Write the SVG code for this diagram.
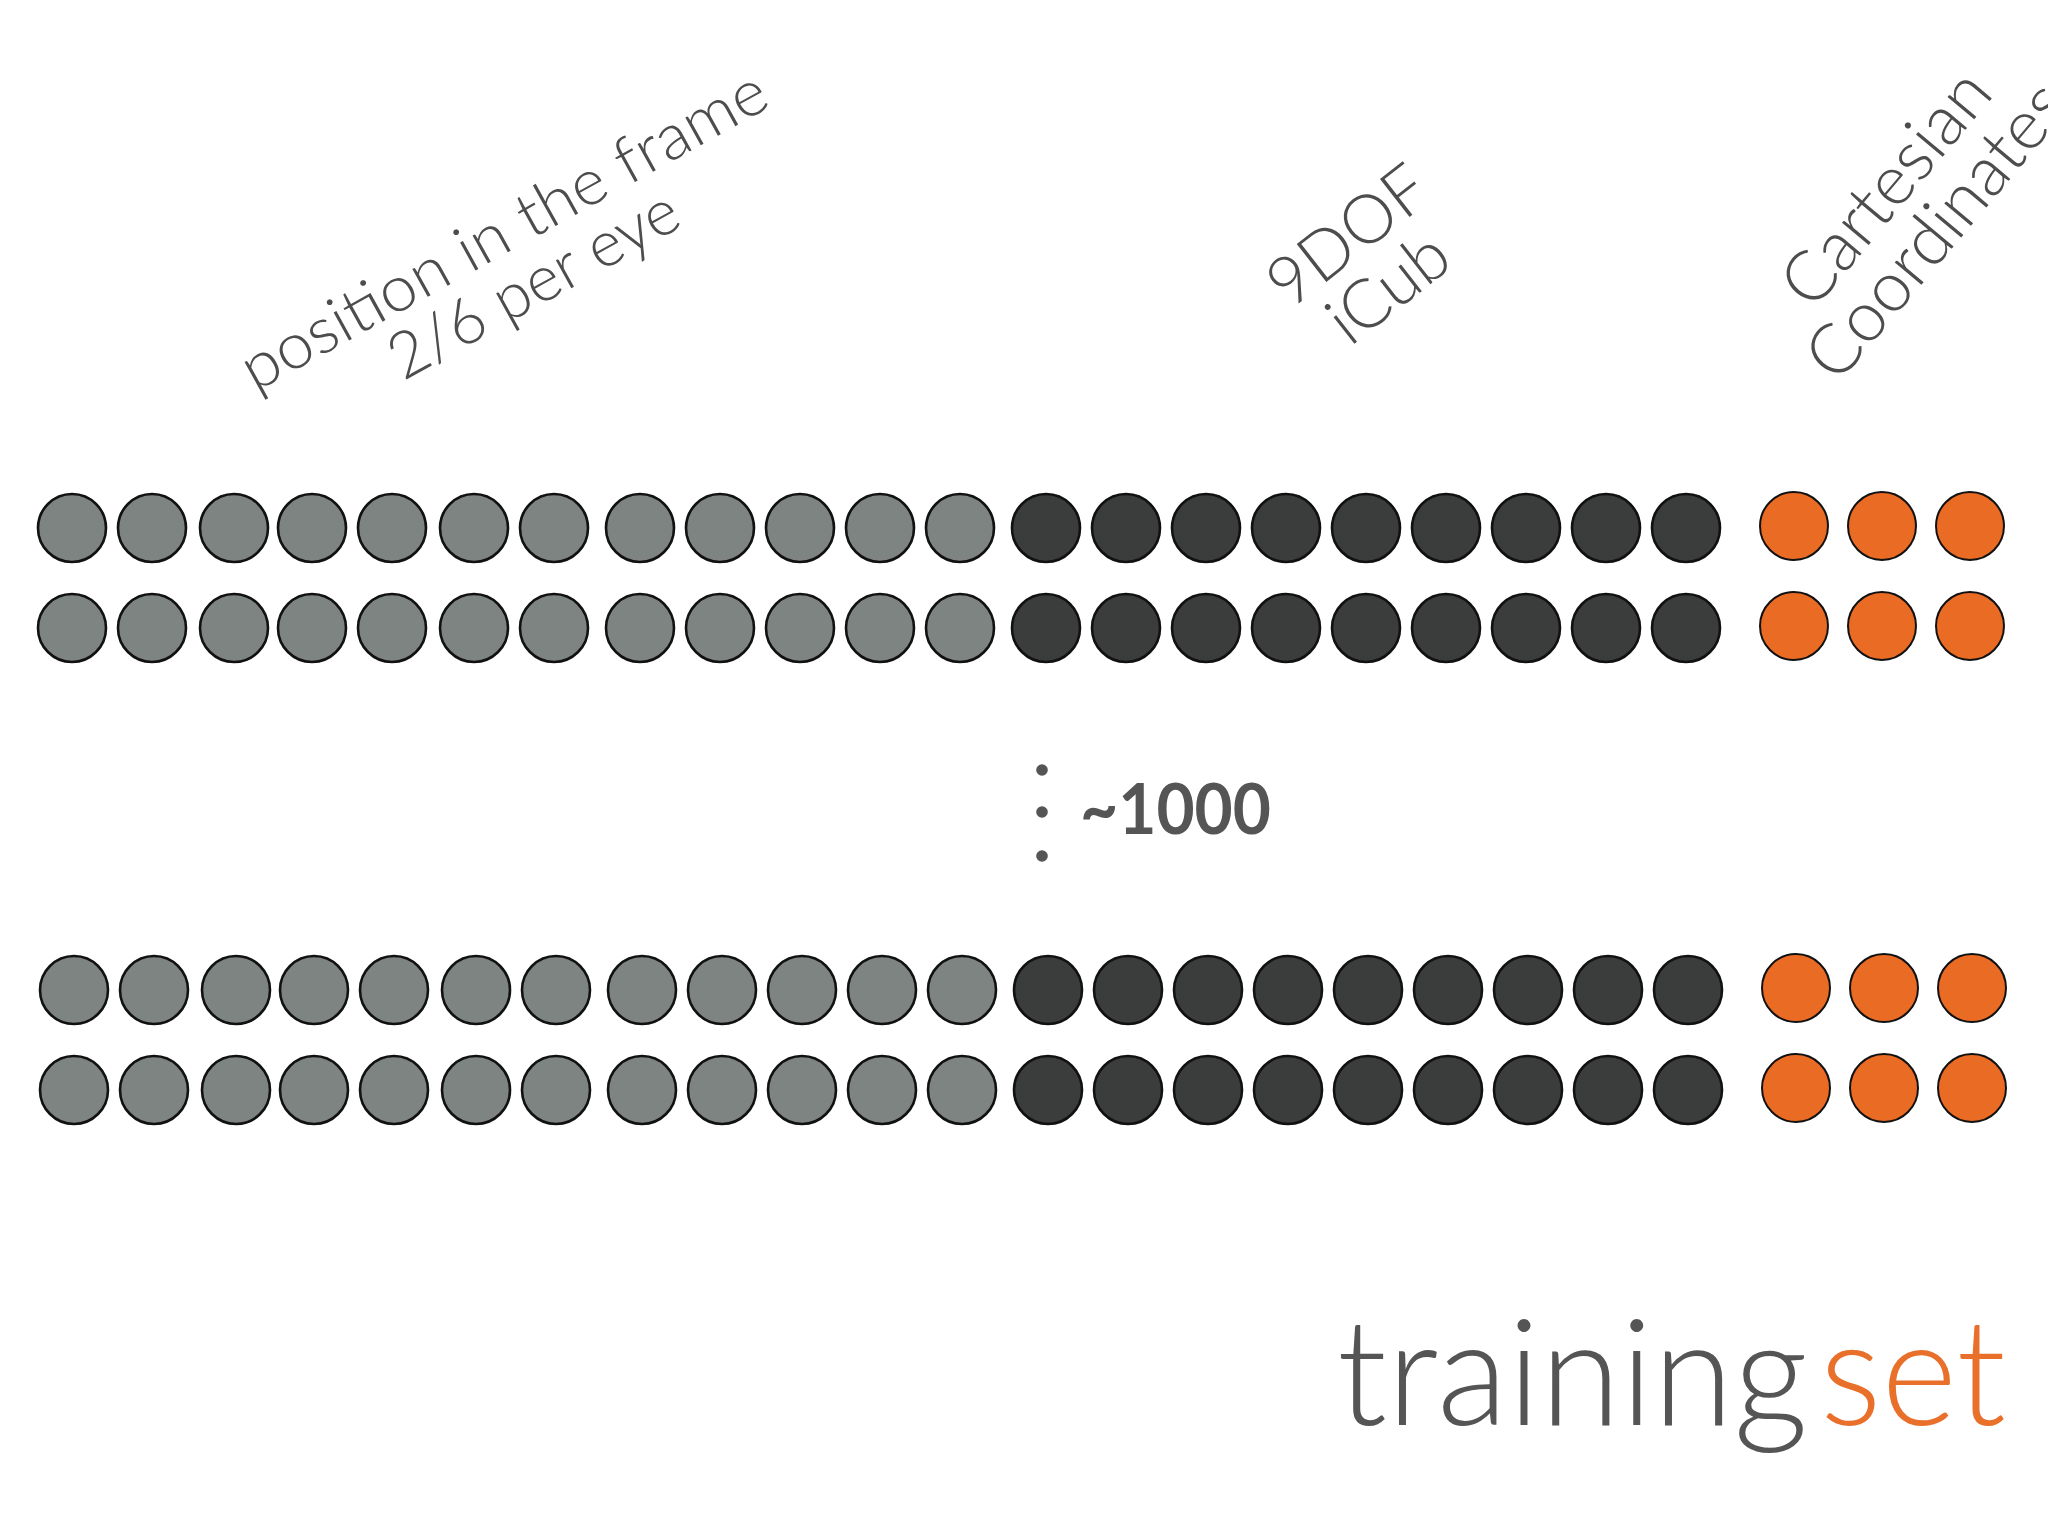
<svg xmlns="http://www.w3.org/2000/svg" width="2048" height="1536" viewBox="0 0 2048 1536">
<defs>
<style>
.g{fill:#7e8482;stroke:#111;stroke-width:2.6}
.d{fill:#3a3d3c;stroke:#111;stroke-width:2.6}
.o{fill:#e96b24;stroke:#111;stroke-width:2}
.lbl{font-family:Lato,"Open Sans","Liberation Sans",sans-serif;font-weight:300;font-size:64px;fill:#4d4d4d;text-anchor:middle}
</style>
</defs>
<rect width="2048" height="1536" fill="#ffffff"/>

<g id="label-position" transform="translate(514,249) rotate(-29)">
<text class="lbl" x="0" y="0" textLength="592" lengthAdjust="spacingAndGlyphs">position in the frame</text>
<text class="lbl" x="0" y="62" textLength="322" lengthAdjust="spacingAndGlyphs">2/6 per eye</text>
</g>
<g id="label-9dof" transform="translate(1362,254) rotate(-38)">
<text class="lbl" x="0" y="0" style="font-size:68px">9DOF</text>
<text class="lbl" x="0" y="66" style="font-size:68px">iCub</text>
</g>
<g id="label-cartesian" transform="translate(1904,203) rotate(-50)">
<text class="lbl" x="0" y="0" style="font-size:70px">Cartesian</text>
<text class="lbl" x="0" y="66" style="font-size:70px">Coordinates</text>
</g>

<g id="block-top">
<g id="row1">
<circle class="g" cx="72" cy="528" r="34"/><circle class="g" cx="152" cy="528" r="34"/><circle class="g" cx="234" cy="528" r="34"/><circle class="g" cx="312" cy="528" r="34"/><circle class="g" cx="392" cy="528" r="34"/><circle class="g" cx="474" cy="528" r="34"/><circle class="g" cx="554" cy="528" r="34"/><circle class="g" cx="640" cy="528" r="34"/><circle class="g" cx="720" cy="528" r="34"/><circle class="g" cx="800" cy="528" r="34"/><circle class="g" cx="880" cy="528" r="34"/><circle class="g" cx="960" cy="528" r="34"/>
<circle class="d" cx="1046" cy="528" r="34"/><circle class="d" cx="1126" cy="528" r="34"/><circle class="d" cx="1206" cy="528" r="34"/><circle class="d" cx="1286" cy="528" r="34"/><circle class="d" cx="1366" cy="528" r="34"/><circle class="d" cx="1446" cy="528" r="34"/><circle class="d" cx="1526" cy="528" r="34"/><circle class="d" cx="1606" cy="528" r="34"/><circle class="d" cx="1686" cy="528" r="34"/>
<circle class="o" cx="1794" cy="526" r="34"/><circle class="o" cx="1882" cy="526" r="34"/><circle class="o" cx="1970" cy="526" r="34"/>
</g>
<g id="row2">
<circle class="g" cx="72" cy="628" r="34"/><circle class="g" cx="152" cy="628" r="34"/><circle class="g" cx="234" cy="628" r="34"/><circle class="g" cx="312" cy="628" r="34"/><circle class="g" cx="392" cy="628" r="34"/><circle class="g" cx="474" cy="628" r="34"/><circle class="g" cx="554" cy="628" r="34"/><circle class="g" cx="640" cy="628" r="34"/><circle class="g" cx="720" cy="628" r="34"/><circle class="g" cx="800" cy="628" r="34"/><circle class="g" cx="880" cy="628" r="34"/><circle class="g" cx="960" cy="628" r="34"/>
<circle class="d" cx="1046" cy="628" r="34"/><circle class="d" cx="1126" cy="628" r="34"/><circle class="d" cx="1206" cy="628" r="34"/><circle class="d" cx="1286" cy="628" r="34"/><circle class="d" cx="1366" cy="628" r="34"/><circle class="d" cx="1446" cy="628" r="34"/><circle class="d" cx="1526" cy="628" r="34"/><circle class="d" cx="1606" cy="628" r="34"/><circle class="d" cx="1686" cy="628" r="34"/>
<circle class="o" cx="1794" cy="626" r="34"/><circle class="o" cx="1882" cy="626" r="34"/><circle class="o" cx="1970" cy="626" r="34"/>
</g>
</g>

<g id="ellipsis" fill="#555555">
<circle cx="1042" cy="770" r="5.8"/>
<circle cx="1042" cy="812" r="5.8"/>
<circle cx="1042" cy="856" r="5.8"/>
<text x="1080" y="834" font-family="Lato,'Open Sans','Liberation Sans',sans-serif" font-weight="700" font-size="70" textLength="191" lengthAdjust="spacingAndGlyphs">~1000</text>
</g>

<g id="block-bottom">
<g id="row3">
<circle class="g" cx="74" cy="990" r="34"/><circle class="g" cx="154" cy="990" r="34"/><circle class="g" cx="236" cy="990" r="34"/><circle class="g" cx="314" cy="990" r="34"/><circle class="g" cx="394" cy="990" r="34"/><circle class="g" cx="476" cy="990" r="34"/><circle class="g" cx="556" cy="990" r="34"/><circle class="g" cx="642" cy="990" r="34"/><circle class="g" cx="722" cy="990" r="34"/><circle class="g" cx="802" cy="990" r="34"/><circle class="g" cx="882" cy="990" r="34"/><circle class="g" cx="962" cy="990" r="34"/>
<circle class="d" cx="1048" cy="990" r="34"/><circle class="d" cx="1128" cy="990" r="34"/><circle class="d" cx="1208" cy="990" r="34"/><circle class="d" cx="1288" cy="990" r="34"/><circle class="d" cx="1368" cy="990" r="34"/><circle class="d" cx="1448" cy="990" r="34"/><circle class="d" cx="1528" cy="990" r="34"/><circle class="d" cx="1608" cy="990" r="34"/><circle class="d" cx="1688" cy="990" r="34"/>
<circle class="o" cx="1796" cy="988" r="34"/><circle class="o" cx="1884" cy="988" r="34"/><circle class="o" cx="1972" cy="988" r="34"/>
</g>
<g id="row4">
<circle class="g" cx="74" cy="1090" r="34"/><circle class="g" cx="154" cy="1090" r="34"/><circle class="g" cx="236" cy="1090" r="34"/><circle class="g" cx="314" cy="1090" r="34"/><circle class="g" cx="394" cy="1090" r="34"/><circle class="g" cx="476" cy="1090" r="34"/><circle class="g" cx="556" cy="1090" r="34"/><circle class="g" cx="642" cy="1090" r="34"/><circle class="g" cx="722" cy="1090" r="34"/><circle class="g" cx="802" cy="1090" r="34"/><circle class="g" cx="882" cy="1090" r="34"/><circle class="g" cx="962" cy="1090" r="34"/>
<circle class="d" cx="1048" cy="1090" r="34"/><circle class="d" cx="1128" cy="1090" r="34"/><circle class="d" cx="1208" cy="1090" r="34"/><circle class="d" cx="1288" cy="1090" r="34"/><circle class="d" cx="1368" cy="1090" r="34"/><circle class="d" cx="1448" cy="1090" r="34"/><circle class="d" cx="1528" cy="1090" r="34"/><circle class="d" cx="1608" cy="1090" r="34"/><circle class="d" cx="1688" cy="1090" r="34"/>
<circle class="o" cx="1796" cy="1088" r="34"/><circle class="o" cx="1884" cy="1088" r="34"/><circle class="o" cx="1972" cy="1088" r="34"/>
</g>
</g>

<g id="title" font-family="Lato,'Open Sans','Liberation Sans',sans-serif" font-weight="300" font-size="148">
<text x="1337" y="1425" fill="#555555" textLength="471" lengthAdjust="spacingAndGlyphs">training</text>
<text x="1820" y="1425" fill="#e8702a" textLength="186" lengthAdjust="spacingAndGlyphs">set</text>
</g>
</svg>
